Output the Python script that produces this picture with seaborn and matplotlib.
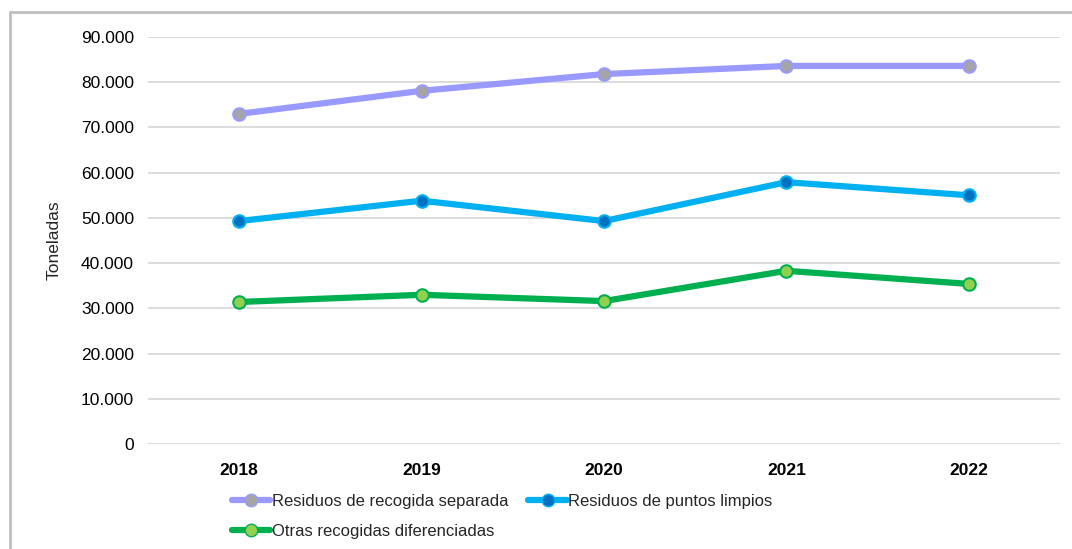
import matplotlib
matplotlib.use("Agg")
import matplotlib.pyplot as plt
from matplotlib.lines import Line2D
from matplotlib.ticker import FuncFormatter
import pandas as pd
import seaborn as sns

# ------------------ DATA ------------------
years = ["2018", "2019", "2020", "2021", "2022"]
separada = [73000, 78100, 81800, 83600, 83600]
puntos_limpios = [49300, 53800, 49300, 57900, 55000]
otras = [31400, 33000, 31600, 38300, 35400]

series = ["Residuos de recogida separada", "Residuos de puntos limpios",
          "Otras recogidas diferenciadas"]
values = [separada, puntos_limpios, otras]

records = []
for name, vals in zip(series, values):
    for i, (y, v) in enumerate(zip(years, vals)):
        records.append({"Serie": name, "Año": y, "pos": i, "Toneladas": v})
df = pd.DataFrame(records)

# ------------------ STYLE ------------------
sns.set_style("white")
plt.rcParams['font.family'] = ['Liberation Sans', 'DejaVu Sans']

line_colors = {series[0]: '#9999FF', series[1]: '#00B0F0', series[2]: '#00B050'}
face_colors = {series[0]: '#A5A5A5', series[1]: '#0070C0', series[2]: '#92D050'}

fig = plt.figure(figsize=(10.72, 5.49), dpi=100)
ax = fig.add_axes([148/1072, 1 - 444/549, 912/1072, (444 - 37)/549])

for s in series:
    sub = df[df["Serie"] == s]
    sns.lineplot(data=sub, x="pos", y="Toneladas", ax=ax, color=line_colors[s],
                 linewidth=4.5, marker='o', markersize=9,
                 markerfacecolor=face_colors[s], markeredgecolor=line_colors[s],
                 markeredgewidth=1.5, label=s, legend=False)

ax.set_xlim(-0.5, 4.5)
ax.set_ylim(0, 90000)
ax.set_yticks(range(0, 90001, 10000))
ax.yaxis.set_major_formatter(FuncFormatter(lambda v, p: f"{int(v):,}".replace(",", ".")))
ax.set_xticks(range(len(years)))
ax.set_xticklabels(years, fontweight='bold')
ax.tick_params(axis='both', length=0, labelsize=12.5, colors='black')
ax.tick_params(axis='y', pad=10)
ax.tick_params(axis='x', pad=14)
ax.grid(axis='y', color='#D9D9D9', linewidth=1.3)
ax.set_axisbelow(True)
for sp in ax.spines.values():
    sp.set_visible(False)
ax.set_xlabel("")
ax.set_ylabel("Toneladas", fontsize=12.5)
ax.yaxis.set_label_coords(-86/912, 0.5)

# ------------------ LEGEND ------------------
# column-major fill: row 1 -> separada, puntos limpios; row 2 -> otras
order = [series[0], series[2], series[1]]
handles = [Line2D([0], [0], color=line_colors[s], linewidth=4.5, marker='o',
                  markersize=9, markerfacecolor=face_colors[s],
                  markeredgecolor=line_colors[s]) for s in order]
fig.legend(handles, order, loc='upper left', bbox_to_anchor=(232/1072, 1 - 494/549),
           ncol=2, frameon=False, fontsize=12, handlelength=2.3, handletextpad=0.1,
           columnspacing=1.2, labelspacing=0.9, borderaxespad=0, borderpad=0)

# outer chart border (top and left)
fig.add_artist(Line2D([10/1072, 1], [1 - 12/549, 1 - 12/549], color='#BFBFBF', linewidth=2))
fig.add_artist(Line2D([10/1072, 10/1072], [0, 1 - 12/549], color='#BFBFBF', linewidth=2))

fig.savefig("out.png", dpi=100)
